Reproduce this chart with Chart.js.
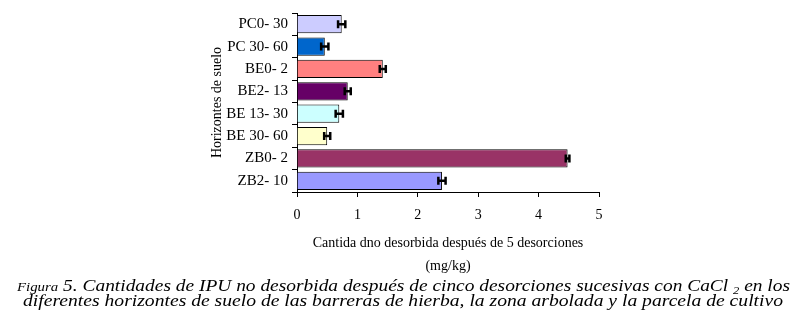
<!DOCTYPE html>
<html><head><meta charset="utf-8">
<script src="https://cdn.jsdelivr.net/npm/chart.js@4.4.0/dist/chart.umd.min.js"></script>
<style>
html,body{margin:0;padding:0;background:#fff;}
#c{display:block;}
</style></head>
<body>
<canvas id="c" width="808" height="327"></canvas>
<script>
const categories = ["PC0- 30","PC 30- 60","BE0- 2","BE2- 13","BE 13- 30","BE 30- 60","ZB0- 2","ZB2- 10"];
const values = [0.74,0.46,1.42,0.84,0.70,0.50,4.48,2.40];
const errors = [0.06,0.06,0.05,0.05,0.06,0.05,0.03,0.06];
const barColors = ["#CCCCFF","#0066CC","#FF8080","#660066","#CCFFFF","#FFFFCC","#993366","#9999FF"];
const xTicks = [0,1,2,3,4,5];
const captionLine1 = [["Figura",13,0],[" 5. Cantidades de IPU no desorbida después de cinco desorciones sucesivas con CaCl ",17,0],["2",11,3],[" en los",17,0]];
const captionLine2 = [["diferentes horizontes de suelo de las barreras de hierba, la zona arbolada y la parcela de cultivo",17,0]];

const errorBars = {
  id:'errorBars',
  afterDatasetsDraw(chart){
    const ctx = chart.ctx, xs = chart.scales.x;
    const meta = chart.getDatasetMeta(0);
    ctx.save();
    ctx.strokeStyle='#000'; ctx.lineWidth=2.5;
    meta.data.forEach((el,i)=>{
      const y = el.y;
      const x1 = xs.getPixelForValue(values[i]-errors[i]);
      const x2 = xs.getPixelForValue(values[i]+errors[i]);
      ctx.beginPath();
      ctx.moveTo(x1,y); ctx.lineTo(x2,y);
      ctx.moveTo(x1,y-4); ctx.lineTo(x1,y+4);
      ctx.moveTo(x2,y-4); ctx.lineTo(x2,y+4);
      ctx.stroke();
    });
    ctx.restore();
  }
};
function drawLine(ctx, segs, cx, baseY, target){
  let w=0;
  segs.forEach(s=>{ctx.font='italic '+s[1]+'px "Liberation Serif", serif'; w+=ctx.measureText(s[0]).width;});
  const k=target/w;
  ctx.save();
  ctx.translate(cx-target/2, baseY);
  ctx.scale(k,1);
  let x=0;
  segs.forEach(s=>{ctx.font='italic '+s[1]+'px "Liberation Serif", serif'; ctx.fillText(s[0],x,s[2]); x+=ctx.measureText(s[0]).width;});
  ctx.restore();
}
const caption = {
  id:'caption',
  afterDraw(chart){
    const ctx=chart.ctx;
    ctx.save();
    ctx.fillStyle='#000'; ctx.textBaseline='alphabetic'; ctx.textAlign='left';
    drawLine(ctx, captionLine1, 403.5, 291, 773);
    drawLine(ctx, captionLine2, 403, 306, 760);
    ctx.restore();
  }
};
const bg = {id:'bg',beforeDraw(c){const x=c.ctx;x.save();x.fillStyle='#fff';x.fillRect(0,0,c.width,c.height);x.restore();}};

new Chart(document.getElementById('c'),{
  type:'bar',
  data:{labels:categories,datasets:[{data:values,backgroundColor:barColors,borderColor:'#000',borderWidth:1,barPercentage:0.82,categoryPercentage:1.0}]},
  options:{
    indexAxis:'y',responsive:false,animation:false,
    layout:{padding:{left:200,right:209,top:13,bottom:45}},
    plugins:{legend:{display:false},tooltip:{enabled:false},title:{display:false}},
    scales:{
      x:{min:0,max:5,
        afterFit(s){s.height=90;},
        afterBuildTicks(s){s.ticks=xTicks.map(v=>({value:v}));},
        ticks:{color:'#000',padding:10,font:{family:'Liberation Serif',size:14},maxRotation:0},
        grid:{drawOnChartArea:false,drawTicks:true,tickLength:5,color:'#000'},
        border:{display:true,color:'#000',width:1},
        title:{display:true,text:['Cantida dno desorbida después de 5 desorciones','(mg/kg)'],color:'#000',font:{family:'Liberation Serif',size:14,lineHeight:1.6},padding:{top:0,bottom:4.8}}
      },
      y:{
        afterFit(s){s.width=97;},
        ticks:{color:'#000',padding:4,font:{family:'Liberation Serif',size:15}},
        grid:{drawOnChartArea:false,drawTicks:true,tickLength:5,color:'#000',offset:true},
        border:{display:true,color:'#000',width:1},
        title:{display:true,text:'Horizontes de suelo',color:'#000',font:{family:'Liberation Serif',size:14},padding:{top:8.6,bottom:0}}
      }
    }
  },
  plugins:[bg,errorBars,caption]
});
</script>
</body></html>
